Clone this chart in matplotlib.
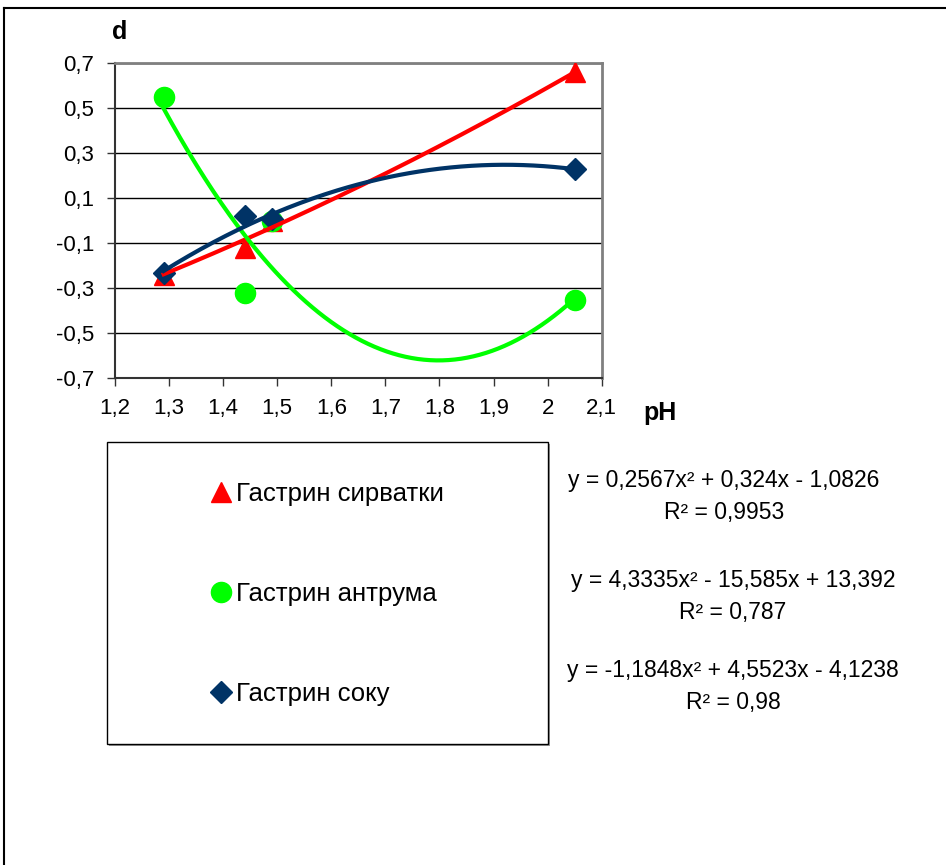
import numpy as np
import matplotlib
matplotlib.use("Agg")
import matplotlib.pyplot as plt
from matplotlib.lines import Line2D
from matplotlib.patches import Rectangle
from matplotlib.ticker import FuncFormatter

plt.rcParams['font.family'] = ['Liberation Sans', 'DejaVu Sans']

# measured points
ph = [1.29, 1.44, 1.49, 2.05]
d_serum = [-0.24, -0.12, 0.0, 0.66]
d_antrum = [0.55, -0.32, 0.0, -0.35]
d_juice = [-0.23, 0.02, 0.01, 0.23]

names = ['Гастрин сирватки', 'Гастрин антрума', 'Гастрин соку']
colors = ['#FF0000', '#00FF00', '#003366']
markers = ['^', 'o', 'D']
msizes = [14, 14.5, 11.5]

# quadratic trendlines (a, b, c) and R^2
coefs = [(0.2567, 0.324, -1.0826), (4.3335, -15.585, 13.392), (-1.1848, 4.5523, -4.1238)]
eq_texts = ['y = 0,2567x² + 0,324x - 1,0826', 'y = 4,3335x² - 15,585x + 13,392',
            'y = -1,1848x² + 4,5523x - 4,1238']
r2_texts = ['R² = 0,9953', 'R² = 0,787', 'R² = 0,98']

W, H = 946, 865
fig = plt.figure(figsize=(W / 100, H / 100), dpi=100)
ax = fig.add_axes([115 / W, 1 - 378.3 / H, 486.7 / W, 315 / H])

series = [d_serum, d_antrum, d_juice]
for ys, c, m, ms in zip(series, colors, markers, msizes):
    ax.plot(ph, ys, linestyle='none', marker=m, markersize=ms, color=c, zorder=3)

xs = np.linspace(min(ph), max(ph), 200)
for (a, b, c0), col in zip(coefs, colors):
    ax.plot(xs, a * xs**2 + b * xs + c0, color=col, lw=3, zorder=4)

ax.set_xlim(1.2, 2.1)
ax.set_ylim(-0.7, 0.7)
ax.set_xticks(np.arange(1.2, 2.15, 0.1))
ax.set_yticks(np.arange(-0.7, 0.75, 0.2))
comma = FuncFormatter(lambda v, p: f"{round(v, 2):g}".replace('.', ','))
ax.xaxis.set_major_formatter(comma)
ax.yaxis.set_major_formatter(comma)
ax.tick_params(direction='out', length=6, width=1, labelsize=16, color='#333333')
ax.tick_params(axis='y', pad=9)
ax.tick_params(axis='x', pad=8)
ax.grid(axis='y', color='black', lw=1)
for s in ['left', 'bottom']:
    ax.spines[s].set_color('#333333')
    ax.spines[s].set_linewidth(1.5)
for s in ['top', 'right']:
    ax.spines[s].set_color('#808080')
    ax.spines[s].set_linewidth(2)

fig.text(120 / W, 1 - 32 / H, 'd', fontsize=18, fontweight='bold', ha='center', va='center')
fig.text(660 / W, 1 - 413 / H, 'pH', fontsize=18, fontweight='bold', ha='center', va='center')

# legend box
fig.patches.append(Rectangle((109 / W, 1 - 746 / H), 441 / W, 302 / H, transform=fig.transFigure,
                             facecolor='#999999', edgecolor='none', zorder=1))
fig.patches.append(Rectangle((107 / W, 1 - 744 / H), 441 / W, 302 / H, transform=fig.transFigure,
                             facecolor='white', edgecolor='black', lw=1, zorder=2))
handles = [Line2D([], [], linestyle='none', marker=m, markersize=ms, color=c)
           for c, m, ms in zip(colors, markers, msizes)]
leg = fig.legend(handles, names, loc='center', bbox_to_anchor=(328 / W, 1 - 594 / H), frameon=False,
                 fontsize=18.5, labelspacing=2.95, handlelength=0.7, handletextpad=0.25)
leg.set_zorder(3)

# trendline equations
eq_x = [724, 733, 733]
eq_y = [481, 581, 671]
for x, y, e, r in zip(eq_x, eq_y, eq_texts, r2_texts):
    fig.text(x / W, 1 - y / H, e, fontsize=16.5, ha='center', va='center')
    fig.text(x / W, 1 - (y + 32) / H, r, fontsize=16.5, ha='center', va='center')

# outer frame
fig.add_artist(Line2D([4 / W, 1], [1 - 8 / H, 1 - 8 / H], color='black', lw=1.5, transform=fig.transFigure))
fig.add_artist(Line2D([4 / W, 4 / W], [0, 1 - 8 / H], color='black', lw=1.5, transform=fig.transFigure))

fig.savefig('out.png', dpi=100)
